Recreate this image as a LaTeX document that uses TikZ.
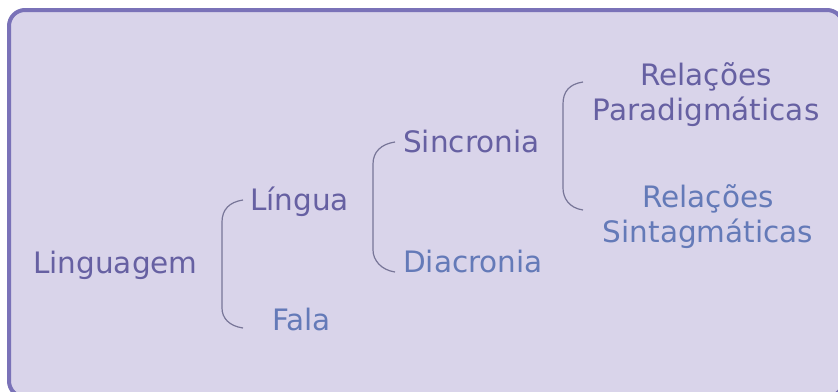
\documentclass[tikz,border=0pt]{standalone}
\usepackage{fontspec}
\setmainfont{DejaVu Sans}
\begin{document}
\begin{tikzpicture}[x=1bp,y=-1bp,
  txt/.style={inner sep=0pt,font=\fontsize{29.5bp}{35bp}\selectfont},
  darktxt/.style={txt,text=textdark},
  bluetxt/.style={txt,text=textblue},
  brace/.style={draw=bracecol,line width=1.2bp}]
\definecolor{boxfill}{RGB}{217,212,234}
\definecolor{boxline}{RGB}{122,114,184}
\definecolor{textdark}{RGB}{102,96,162}
\definecolor{textblue}{RGB}{100,122,184}
\definecolor{bracecol}{RGB}{120,118,152}
\useasboundingbox (0,0) rectangle (838,391);
\clip (0,0) rectangle (838,391);
\fill[white] (0,0) rectangle (838,391);
\draw[boxline,fill=boxfill,line width=4bp,rounded corners=16bp] (9,10) rectangle (843,397);

\node[darktxt,anchor=base west] (linguagem) at (33,273) {Linguagem};
\node[darktxt,anchor=base west] (lingua) at (250,210) {Língua};
\node[bluetxt,anchor=base west] (fala) at (272,330) {Fala};
\node[darktxt,anchor=base west] (sincronia) at (403,152) {Sincronia};
\node[bluetxt,anchor=base west] (diacronia) at (403,272) {Diacronia};
\node[darktxt,anchor=base,align=center] (parad) at (706,120) {Relações\\Paradigmáticas};
\node[bluetxt,anchor=base,align=center] (sintag) at (708,242) {Relações\\Sintagmáticas};

\coordinate (b1t) at (243,200);
\coordinate (b1b) at (243,328);
\coordinate (b2t) at (395,142);
\coordinate (b2b) at (395,272);
\coordinate (b3t) at (583,82);
\coordinate (b3b) at (583,210);

\draw[brace] (b1t) .. controls (229,202) and (222,210) .. (222,222) -- (222,308) .. controls (222,318) and (229,326) .. (b1b);
\draw[brace] (b2t) .. controls (381,144) and (373,152) .. (373,164) -- (373,250) .. controls (373,260) and (381,270) .. (b2b);
\draw[brace] (b3t) .. controls (569,84) and (563,92) .. (563,104) -- (563,188) .. controls (563,198) and (569,208) .. (b3b);
\end{tikzpicture}
\end{document}
